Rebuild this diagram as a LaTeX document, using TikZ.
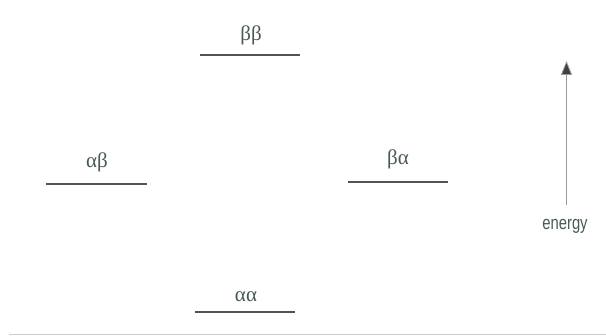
\documentclass[tikz,border=0pt]{standalone}
\usepackage{fontspec}
\setmainfont{Liberation Serif}
\newfontfamily\energyfont{Liberation Sans}
\usetikzlibrary{arrows.meta}
\definecolor{lvl}{HTML}{4F5555}
\definecolor{txt}{HTML}{4A5858}
\begin{document}
\begin{tikzpicture}[x=1pt,y=-1pt,
  level/.style={draw=lvl,line width=2pt},
  lab/.style={text=txt,font=\fontsize{21}{21}\selectfont,inner sep=0pt}]
\useasboundingbox (0,0) rectangle (606,336);
% levels
\coordinate (bbL) at (200,55); \coordinate (bbR) at (300,55);
\coordinate (abL) at (46,184); \coordinate (abR) at (147,184);
\coordinate (baL) at (348,182); \coordinate (baR) at (448,182);
\coordinate (aaL) at (195,312); \coordinate (aaR) at (295,312);
\draw[level] (bbL) -- (bbR);
\draw[level] (abL) -- (abR);
\draw[level] (baL) -- (baR);
\draw[level] (aaL) -- (aaR);
\node[lab] (bb) at (251,35) {ββ};
\node[lab] (ab) at (97,162) {αβ};
\node[lab] (ba) at (398,159) {βα};
\node[lab] (aa) at (246,297) {αα};
% energy arrow
\coordinate (eb) at (566.5,205);
\coordinate (et) at (566.5,61);
\draw[draw=gray!80,line width=0.8pt,-{Triangle[length=14pt,width=11pt,fill=black!75]}] (eb) -- (et);
\node[text=txt,inner sep=0pt] (en) at (565,226) {\scalebox{0.78}[1]{\energyfont\fontsize{19}{19}\selectfont energy}};
% bottom rule
\coordinate (r1) at (9,335); \coordinate (r2) at (606,335);
\draw[draw=black!20,line width=1pt] (r1) -- (r2);
\end{tikzpicture}
\end{document}
